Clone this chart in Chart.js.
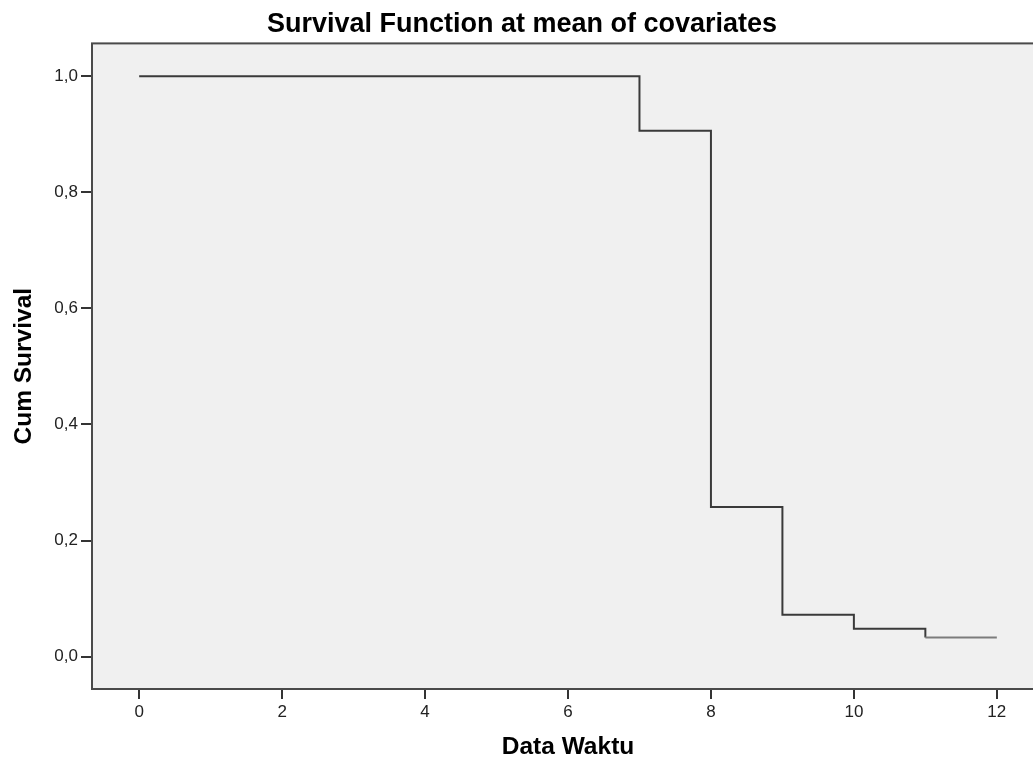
<!DOCTYPE html>
<html>
<head>
<meta charset="utf-8">
<script src="https://cdn.jsdelivr.net/npm/chart.js@4.4.1/dist/chart.umd.min.js"></script>
<style>
    html, body { margin: 0; padding: 0; background: #ffffff; overflow: hidden; }
    /* plot frame runs a little past the right edge of the window */
    .chart-container { position: relative; width: 1046px; height: 762px; }
</style>
</head>
<body>
<div class="chart-container"><canvas id="survival"></canvas></div>
<script>
// Cox model survival at mean of covariates
const waktu = [0, 7, 8, 9, 10, 11, 12];
const cumSurvival = [1.0, 0.906, 0.258, 0.072, 0.048, 0.033, 0.033];
const xTicks = [0, 2, 4, 6, 8, 10, 12];
const yTicks = [0.0, 0.2, 0.4, 0.6, 0.8, 1.0];

const plotFrame = {
    id: "plotFrame",
    beforeDatasetsDraw(chart) {
        const { ctx, chartArea: a } = chart;
        ctx.save();
        ctx.fillStyle = "#f0f0f0";
        ctx.fillRect(a.left, a.top, a.right - a.left, a.bottom - a.top);
        ctx.restore();
    },
    afterDraw(chart) {
        const { ctx, chartArea: a } = chart;
        ctx.save();
        ctx.strokeStyle = "#4a4a4a";
        ctx.lineWidth = 2;
        ctx.strokeRect(a.left, a.top, a.right - a.left, a.bottom - a.top);
        ctx.restore();
    },
};

const ctx = document.getElementById("survival").getContext("2d");
new Chart(ctx, {
    type: "line",
    data: {
        datasets: [
            {
                label: "Cum Survival",
                data: waktu.map((t, i) => ({ x: t, y: cumSurvival[i] })),
                borderColor: "#3a3a3a",
                borderWidth: 2,
                stepped: true,
                pointRadius: 0,
                fill: false,
                segment: {
                    // tail step renders a shade lighter
                    borderColor: (c) => (c.p0.parsed.x >= 11 ? "#7c7c7c" : undefined),
                },
            },
        ],
    },
    options: {
        responsive: true,
        maintainAspectRatio: false,
        animation: false,
        layout: { padding: { left: 0, right: 2, top: 0, bottom: 0 } },
        plugins: {
            legend: { display: false },
            tooltip: { enabled: false },
            title: {
                display: true,
                text: "Survival Function at mean of covariates",
                color: "#000000",
                font: { family: "Liberation Sans", size: 27, weight: "bold" },
                padding: { top: 8, bottom: 3 },
            },
        },
        scales: {
            x: {
                type: "linear",
                min: -0.66,
                max: 12.66,
                afterFit: (s) => { s.height = 73; },
                afterBuildTicks: (s) => { s.ticks = xTicks.map((v) => ({ value: v })); },
                border: { display: false },
                grid: {
                    drawOnChartArea: false,
                    drawTicks: true,
                    tickLength: 10,
                    tickColor: "#333333",
                    lineWidth: 2,
                },
                ticks: {
                    color: "#222222",
                    padding: 3,
                    maxRotation: 0,
                    font: { family: "Liberation Sans", size: 17 },
                    callback: (v) => String(v),
                },
                title: {
                    display: true,
                    text: "Data Waktu",
                    color: "#000000",
                    font: { family: "Liberation Sans", size: 24.5, weight: "bold" },
                    padding: { top: 0, bottom: 0 },
                },
            },
            y: {
                min: -0.0557,
                max: 1.0564,
                afterFit: (s) => { s.width = 92; },
                afterBuildTicks: (s) => { s.ticks = yTicks.map((v) => ({ value: v })); },
                border: { display: false },
                grid: {
                    drawOnChartArea: false,
                    drawTicks: true,
                    tickLength: 11,
                    tickColor: "#333333",
                    lineWidth: 2,
                },
                ticks: {
                    color: "#222222",
                    padding: 3,
                    font: { family: "Liberation Sans", size: 17 },
                    callback: (v) => v.toFixed(1).replace(".", ","),
                },
                title: {
                    display: true,
                    text: "Cum Survival",
                    color: "#000000",
                    font: { family: "Liberation Sans", size: 24.5, weight: "bold" },
                    padding: { top: 10, bottom: 0 },
                },
            },
        },
    },
    plugins: [plotFrame],
});
</script>
</body>
</html>
